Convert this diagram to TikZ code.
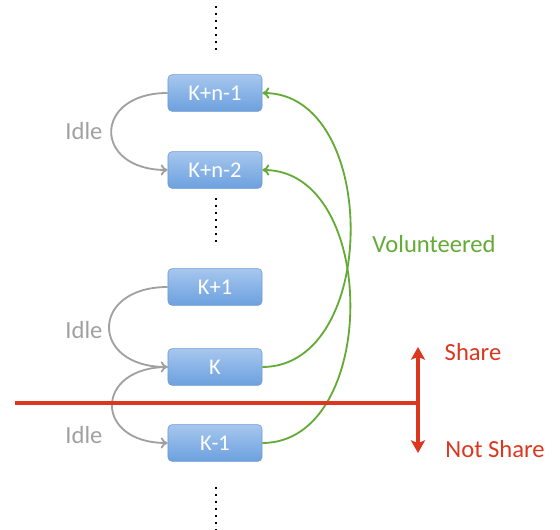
\documentclass[tikz,border=0pt]{standalone}
\usepackage{fontspec}
\setmainfont{Carlito}
\usetikzlibrary{arrows.meta, positioning}

\definecolor{boxtop}{RGB}{166,199,238}
\definecolor{boxbot}{RGB}{108,160,222}
\definecolor{boxline}{RGB}{110,155,210}
\definecolor{idlegray}{RGB}{160,160,160}
\definecolor{volgreen}{RGB}{100,170,55}
\definecolor{sharered}{RGB}{220,55,30}

\tikzset{
  slot/.style={draw=boxline, top color=boxtop, bottom color=boxbot, rounded corners=3pt,
    minimum width=2.35cm, minimum height=0.92cm, text=white, font=\fontsize{16}{18}\selectfont},
  idle/.style={draw=idlegray, line width=1.3pt, -{To[length=5pt, width=8pt]}, looseness=2.5},
  vol/.style={draw=volgreen, line width=1.3pt, -{To[length=5pt, width=8pt]}, looseness=1.1},
  dots/.style={line width=1.5pt, dash pattern=on 1.5pt off 3.5pt},
  lbl/.style={font=\fontsize{17.5}{20}\selectfont}
}

\begin{document}
\begin{tikzpicture}[x=0.025cm, y=-0.025cm]
	\useasboundingbox (0,0) rectangle (560,530);

	% the slots
	\node[slot] (Kn1) at (215, 93) {K+n-1};
	\node[slot] (Kn2) at (215,170) {K+n-2};
	\node[slot] (Kp1) at (215,287) {K+1};
	\node[slot] (K)   at (215,367) {K};
	\node[slot] (Km1) at (215,443) {K-1};

	% vertical dots
	\coordinate (top1) at (216,  6);
	\coordinate (top2) at (216, 54);
	\coordinate (mid1) at (216,198);
	\coordinate (mid2) at (216,246);
	\coordinate (bot1) at (216,487);
	\coordinate (bot2) at (216,530);
	\draw[dots] (top1) -- (top2);
	\draw[dots] (mid1) -- (mid2);
	\draw[dots] (bot1) -- (bot2);

	% idle hand-over
	\draw[idle] (Kn1.west) to[out=180, in=180] (Kn2.west);
	\draw[idle] (Kp1.west) to[out=180, in=180] (K.west);
	\draw[idle] (K.west) to[out=180, in=180] (Km1.west);
	\node[lbl, text=idlegray] (idle1) at (84,131) {Idle};
	\node[lbl, text=idlegray] (idle2) at (84,330) {Idle};
	\node[lbl, text=idlegray] (idle3) at (84,435) {Idle};

	% volunteered
	\draw[vol] (K.east) to[out=0, in=0] (Kn1.east);
	\draw[vol] (Km1.east) to[out=0, in=0] (Kn2.east);
	\node[lbl, text=volgreen] (volun) at (434,244) {Volunteered};

	% share border
	\coordinate (lineL) at (15,403);
	\coordinate (lineR) at (418,403);
	\coordinate (upT) at (418,347);
	\coordinate (dnT) at (418,453);
	\draw[sharered, line width=2.3pt] (lineL) -- (lineR);
	\draw[sharered, line width=2.3pt, {Stealth[length=9pt, width=10pt, inset=2pt]}-{Stealth[length=9pt, width=10pt, inset=2pt]}] (upT) -- (dnT);
	\node[lbl, text=sharered] (share) at (473,352) {Share};
	\node[lbl, text=sharered] (nshare) at (495,449) {Not Share};
\end{tikzpicture}
\end{document}
